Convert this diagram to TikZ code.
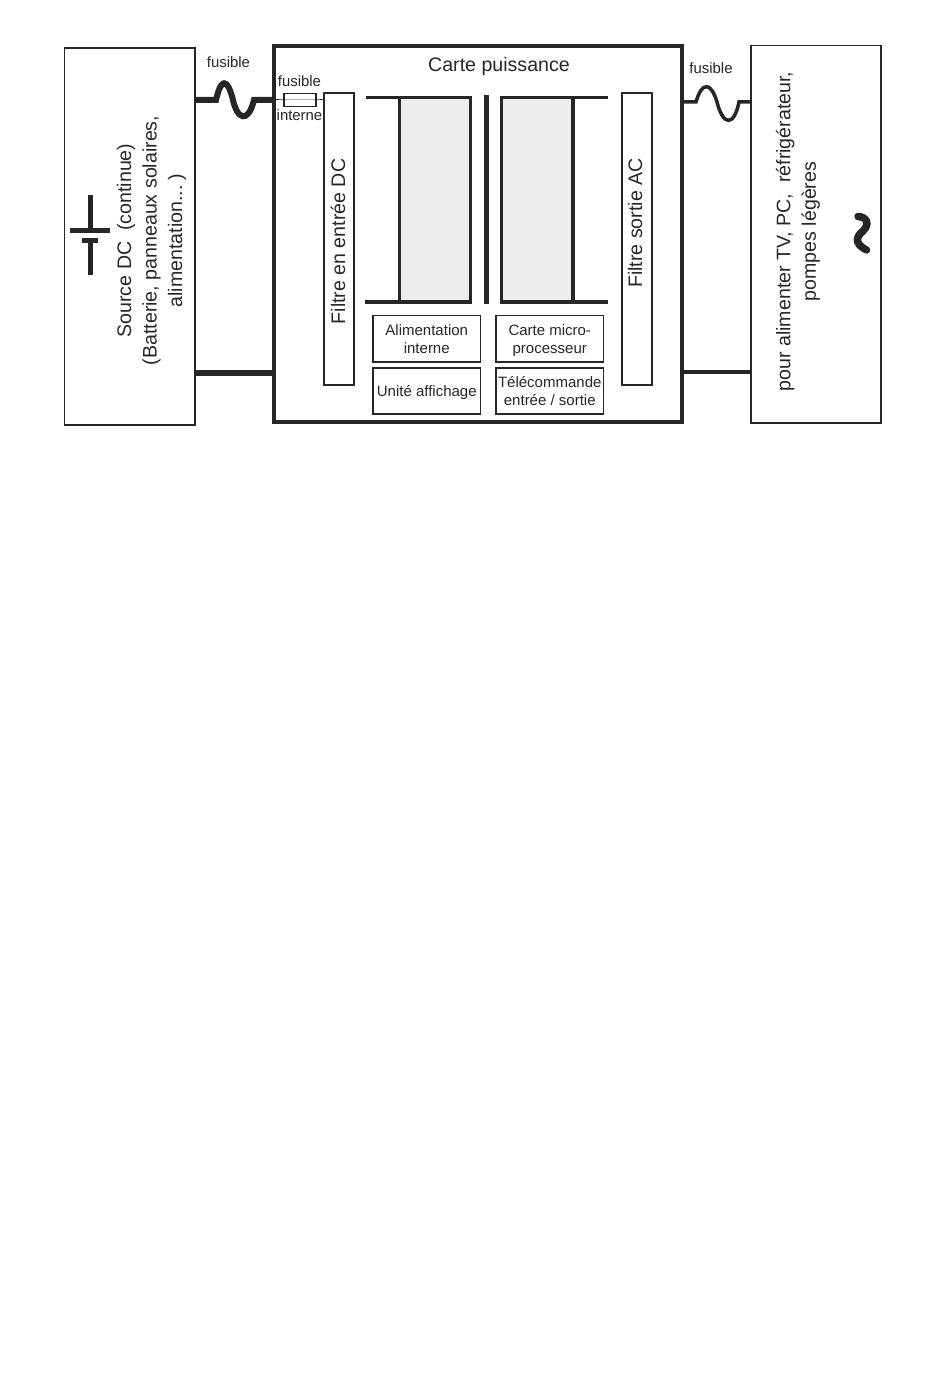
\documentclass[tikz,border=0pt]{standalone}
\usepackage{fontspec}
\setmainfont{Liberation Sans}
\definecolor{ink}{gray}{0.15}
\definecolor{core}{gray}{0.93}
\newcommand{\lstrut}{\rule[-3.4pt]{0pt}{18pt}}
\begin{document}
\begin{tikzpicture}[x=1pt, y=-1pt, color=ink]
	\tikzset{box/.style={draw=ink, line width=1.7pt, inner sep=0pt, outer sep=0pt},
	big/.style={font=\fontsize{19.6}{25.5}\selectfont, align=center, inner sep=0pt},
	small/.style={box, line width=1.5pt, font=\fontsize{15}{18}\selectfont, align=center, minimum width=107.5pt},
	tag/.style={font=\fontsize{14.9}{17}\selectfont, inner sep=0pt},
	dcwire/.style={line width=6pt},
	acwire/.style={line width=3.5pt},
	plate/.style={line width=3.5pt}};

	\useasboundingbox (0,0) rectangle (950,1399);

	\node[box, minimum width=130.5pt, minimum height=377pt] (source) at (129.75,236.5) {};
	\node[box, line width=4pt, minimum width=408pt, minimum height=375.5pt] (carte) at (478,234.25) {};
	\node[box, minimum width=130pt, minimum height=377.5pt] (charge) at (816,234.25) {};
	\node[box, minimum width=30pt, minimum height=292pt] (fdc) at (339,239) {};
	\node[box, minimum width=30pt, minimum height=292pt] (fac) at (637,239) {};
	\node[box, line width=1.3pt, minimum width=32pt, minimum height=12.5pt] (fuse) at (300,100) {};

	\node[box, line width=3.5pt, fill=core, minimum width=71pt, minimum height=204.5pt] (corea) at (435,199.75) {};
	\node[box, line width=3.5pt, fill=core, minimum width=71.5pt, minimum height=204.5pt] (coreb) at (537.25,199.75) {};
	\coordinate (ta) at (366,97.5);
	\coordinate (ba) at (365,302);
	\coordinate (tb) at (608,97.5);
	\coordinate (bb) at (607.5,302);
	\draw[plate] (ta) -- (corea.north west);
	\draw[plate] (ba) -- (corea.south west);
	\draw[plate] (tb) -- (coreb.north east);
	\draw[plate] (bb) -- (coreb.south east);
	\coordinate (gapt) at (486,95);
	\coordinate (gapb) at (486,304);
	\draw[line width=5pt] (gapt) -- (gapb);

	\node[small, minimum height=46.5pt] (alim) at (426.75,338.75) {Alimentation\lstrut\\interne\lstrut};
	\node[small, minimum height=46pt] (aff) at (426.75,391) {Unité affichage\lstrut};
	\node[small, minimum height=46.5pt] (micro) at (549.75,338.75) {Carte micro-\lstrut\\processeur\lstrut};
	\node[small, minimum height=46pt] (tele) at (549.75,391) {Télécommande\lstrut\\entrée / sortie\lstrut};

	\node[big] (titre) at (499,66) {Carte puissance\strut};
	\node[big, rotate=90] (lsource) at (151.5,240.5) {Source DC~~(continue)\\(Batterie, panneaux solaires,\\alimentation...~)};
	\node[big, rotate=90] (lcharge) at (798,231.5) {pour alimenter TV, PC,~~réfrigérateur,\\pompes légères};
	\node[big, rotate=90] (lfdc) at (338,241.5) {Filtre en entrée DC};
	\node[big, rotate=90] (lfac) at (635,223) {Filtre sortie AC};

	\node[tag] (fa) at (228.5,62) {fusible};
	\node[tag] (fb) at (299.5,81.5) {fusible};
	\node[tag] (fc) at (299.5,115.5) {interne};
	\node[tag] (fd) at (711,68.5) {fusible};

	% fusibles
	\coordinate (wa) at (216,100);
	\coordinate (wb) at (254,100);
	\coordinate (wc) at (696,102);
	\coordinate (wd) at (739,102);
	\draw[dcwire] (source.east |- wa) -- (wa) .. controls (221,78) and (227,78) .. (232.5,98) .. controls (237,120) and (248,124) .. (wb) -- (carte.west |- wb);
	\draw[acwire] (carte.east |- wc) -- (wc) .. controls (702,81) and (711,82) .. (717,102) .. controls (723,126) and (734,127) .. (wd) -- (charge.west |- wd);
	\draw[line width=1pt] (carte.west |- fuse) -- (fuse.west) -- (fuse.east) -- (fdc.west |- fuse);

	% retours
	\coordinate (ra) at (230,373);
	\coordinate (rb) at (720,372);
	\draw[dcwire] (source.east |- ra) -- (carte.west |- ra);
	\draw[acwire] (carte.east |- rb) -- (charge.west |- rb);

	% batterie
	\coordinate (p1) at (90,195);
	\coordinate (p2) at (90,230);
	\coordinate (p3) at (90,240.5);
	\coordinate (p4) at (90,275);
	\draw[line width=5pt] (p1) -- (p2);
	\draw[line width=5pt] (70,230) -- (110,230);
	\draw[line width=5pt] (82,240.5) -- (98,240.5);
	\draw[line width=5pt] (p3) -- (p4);

	% alternatif
	\draw[line width=7.5pt, line cap=round] (858,216.5) .. controls (867,217) and (870,224) .. (863,231) .. controls (857,236) and (853,243) .. (866.5,250);
\end{tikzpicture}
\end{document}
